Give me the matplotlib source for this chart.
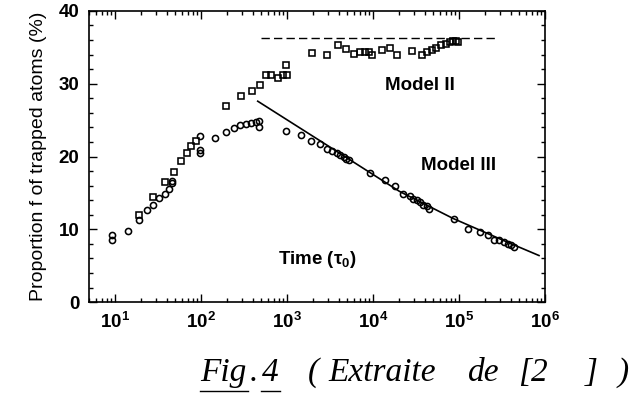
import numpy as np
import matplotlib.pyplot as plt
from matplotlib.lines import Line2D
from matplotlib.ticker import MultipleLocator

# Model II (open squares), time in units of tau0, f in %
sq_t = [19, 28, 38, 48, 58, 68, 77, 87, 193, 293, 389, 490, 569, 650, 776, 887,
        968, 995, 1970, 2900, 3890, 4900, 5950, 6980, 8130, 8870, 9700, 12600,
        15800, 19000, 28100, 36700, 41900, 47900, 54700, 62500, 71300, 77800,
        85100, 91300, 97000]
sq_f = [12.0, 14.5, 16.5, 17.9, 19.4, 20.5, 21.4, 22.2, 27.0, 28.3, 29.0, 29.8,
        31.2, 31.2, 30.8, 31.2, 32.6, 31.2, 34.2, 34.0, 35.3, 34.8, 34.1, 34.3,
        34.3, 34.4, 34.0, 34.7, 34.9, 34.0, 34.5, 34.0, 34.3, 34.6, 34.9, 35.3,
        35.5, 35.7, 35.9, 35.9, 35.8]

# Model III (open circles)
ci_t = [9.2, 9.2, 14, 18.8, 23.9, 28, 32.8, 38, 42.7, 46.4, 46.4, 96.7, 96.7,
        96.7, 144, 193, 241, 288, 334, 382, 436, 477, 477,
        968, 1443, 1884, 2393, 2884, 3350, 3830, 4180, 4560, 4900, 5200, 9290,
        13800, 18000, 22500, 26900, 29400, 32100, 35100, 38300, 41900, 44900,
        86700, 126800, 173000, 216000, 258000, 294000, 336000, 368000, 402000,
        439000]
ci_f = [9.2, 8.5, 9.8, 11.3, 12.6, 13.4, 14.3, 14.9, 15.5, 16.6, 16.3, 22.8,
        20.9, 20.5, 22.5, 23.4, 23.9, 24.4, 24.5, 24.6, 24.7, 24.9, 24.1,
        23.5, 23.0, 22.2, 21.7, 21.1, 20.8, 20.5, 20.2, 20.0, 19.7, 19.5, 17.7,
        16.8, 16.0, 14.9, 14.6, 14.2, 14.0, 13.7, 13.4, 13.2, 12.8,
        11.4, 10.1, 9.6, 9.2, 8.6, 8.5, 8.3, 8.0, 7.8, 7.6]

# Model II plateau (dashed) and Model III fit (solid)
plateau_t = [500, 280000]
plateau_f = [36.3, 36.3]
fit_t = [457, 3160, 20400, 85100, 355000, 851000]
fit_f = [27.6, 21.3, 15.2, 11.5, 8.3, 6.4]

plt.rcParams['font.family'] = ['Liberation Sans', 'DejaVu Sans']
plt.rcParams['font.weight'] = 'bold'

fig = plt.figure(figsize=(6.36, 4.05), dpi=100)
ax = fig.add_axes([0.140, 0.254, 0.717, 0.719])

ax.plot(plateau_t, plateau_f, color='black', lw=1.0, ls=(0, (6, 3)))
ax.plot(fit_t, fit_f, color='black', lw=1.2)
ax.plot(sq_t, sq_f, ls='none', marker='s', ms=4.6, mfc='none', mec='black', mew=1.15)
ax.plot(ci_t, ci_f, ls='none', marker='o', ms=4.4, mfc='none', mec='black', mew=1.15)

ax.set_xscale('log')
ax.set_xlim(5, 1e6)
ax.set_ylim(0, 40)
ax.set_yticks([0, 10, 20, 30, 40])
ax.yaxis.set_minor_locator(MultipleLocator(2))
ax.tick_params(which='both', direction='in', top=True, right=True, width=1)
ax.tick_params(which='major', length=6, labelsize=13.5, pad=7)
ax.tick_params(which='minor', length=3)
for sp in ax.spines.values():
    sp.set_linewidth(1.2)

ax.set_ylabel('Proportion f of trapped atoms (%)', fontsize=14, fontweight='normal', labelpad=8)

ax.text(35100, 29.8, 'Model II', fontsize=13.5, ha='center', va='center')
ax.text(98900, 18.8, 'Model III', fontsize=13.5, ha='center', va='center')
ax.text(2240, 5.8, r'Time ($\mathdefault{τ_0}$)', fontsize=13.5, ha='center', va='center')

# handwritten caption below the plot
cap_kw = dict(family='Liberation Serif', style='italic', fontweight='normal', fontsize=24, va='baseline')
cap_y = 0.06
fig.text(200 / 636, cap_y, 'Fig', **cap_kw)
fig.text(250 / 636, cap_y, '.', **cap_kw)
fig.text(262 / 636, cap_y, '4', **cap_kw)
fig.text(308 / 636, cap_y, '(', **cap_kw)
fig.text(328 / 636, cap_y, 'Extraite', **cap_kw)
fig.text(468 / 636, cap_y, 'de', **cap_kw)
fig.text(518 / 636, cap_y, '[2', **cap_kw)
fig.text(585 / 636, cap_y, ']', **cap_kw)
fig.text(618 / 636, cap_y, ')', **cap_kw)
fig.add_artist(Line2D([200 / 636, 248 / 636], [0.035, 0.035], color='black', lw=1))
fig.add_artist(Line2D([261 / 636, 280 / 636], [0.035, 0.035], color='black', lw=1))

fig.savefig('out.png', dpi=100)
